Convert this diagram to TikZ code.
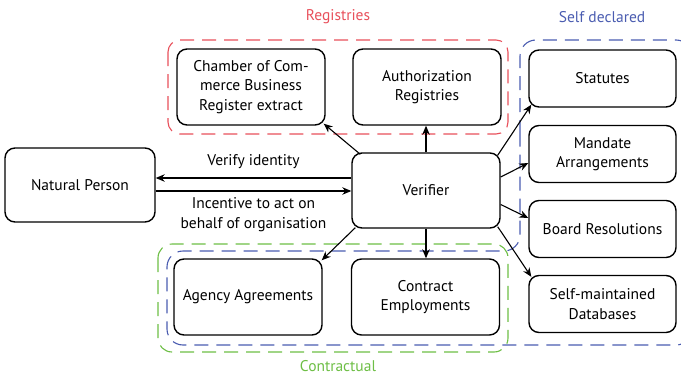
\documentclass[tikz,border=0pt]{standalone}
\usepackage{fontspec}
\setmainfont{PT Sans}
\usetikzlibrary{arrows.meta}
\definecolor{regred}{HTML}{E8505B}
\definecolor{selfblue}{HTML}{4A5CB0}
\definecolor{contgreen}{HTML}{6DBE45}

\begin{document}
\begin{tikzpicture}[x=1pt,y=-1pt,
        box/.style={draw, rounded corners=10pt, line width=1.4pt, minimum width=148pt,
            align=center, font=\fontsize{15.5}{19.5}\selectfont},
        arr/.style={-{Stealth[length=9pt,width=7.5pt]}, line width=1.1pt},
        region/.style={line width=1.1pt, dash pattern=on 14pt off 8pt},
        lbl/.style={font=\fontsize{15.5}{19.5}\selectfont, align=center}]
        \useasboundingbox (0,0) rectangle (681,375);

        % groups
        \draw[region, contgreen, rounded corners=14pt] (158,244) rectangle (508,352);
        \draw[region, regred, rounded corners=12pt] (168,40) rectangle (508,134);
        \draw[region, selfblue, rounded corners=16pt] (520,150) -- (520,40) -- (692,40) -- (692,345)
            -- (167,345) -- (167,251) -- (520,251) -- cycle;

        \node[lbl, text=regred] at (338, 17) {Registries};
        \node[lbl, text=selfblue] at (602, 17) {Self declared};
        \node[lbl, text=contgreen, inner sep=0pt] at (338, 366) {Contractual};

        % nodes
        \node[box, minimum width=150pt, minimum height=74pt] (p) at (80, 185) {Natural Person};
        \node[box, minimum height=75pt] (v) at (426, 190.5) {Verifier};

        \node[box, minimum height=76pt] (c) at (251, 87) {Chamber of Com-\\merce Business\\Register extract};
        \node[box, minimum height=76pt] (r) at (427, 87) {Authorization\\Registries};

        \node[box, minimum width=147pt, minimum height=57pt] (s) at (602.5, 78.5) {Statutes};
        \node[box, minimum width=147pt, minimum height=57pt] (m) at (602.5, 154) {Mandate\\Arrangements};
        \node[box, minimum width=147pt, minimum height=57pt] (b) at (602.5, 229) {Board Resolutions};
        \node[box, minimum width=147pt, minimum height=57pt] (d) at (602.5, 304) {Self-maintained\\Databases};

        \node[box, minimum height=76pt] (a) at (248, 297) {Agency Agreements};
        \node[box, minimum height=76pt] (e) at (425.5, 297) {Contract\\Employments};

        % connectors
        \draw[arr] ([shift={(0,-12.5)}]v.west) to node[midway, lbl, above=5pt] {Verify identity}
            ([shift={(0,-12.5)}]v.west -| p.east);
        \draw[arr] ([shift={(0,6)}]p.east) to node[midway, lbl, below=3pt] {Incentive to act on\\behalf of organisation}
            ([shift={(0,6)}]p.east -| v.west);

        \draw[arr] ([shift={(9,2)}]v.north west) -- ([shift={(-2,-2)}]c.south east);
        \draw[arr] (v.north) -- (v.north |- r.south);
        \draw[arr] ([shift={(-3,3)}]v.north east) -- ([shift={(3,-3)}]s.south west);
        \draw[arr] ([shift={(0,-13.5)}]v.east) -- ([shift={(0,9)}]m.west);
        \draw[arr] ([shift={(0,14)}]v.east) -- ([shift={(0,-11)}]b.west);
        \draw[arr] ([shift={(-3,-2)}]v.south east) -- ([shift={(3,2)}]d.north west);
        \draw[arr] ([shift={(4,-1)}]v.south west) -- ([shift={(-1,2)}]a.north east);
        \draw[arr] (v.south) -- (v.south |- e.north);

    \end{tikzpicture}
\end{document}
